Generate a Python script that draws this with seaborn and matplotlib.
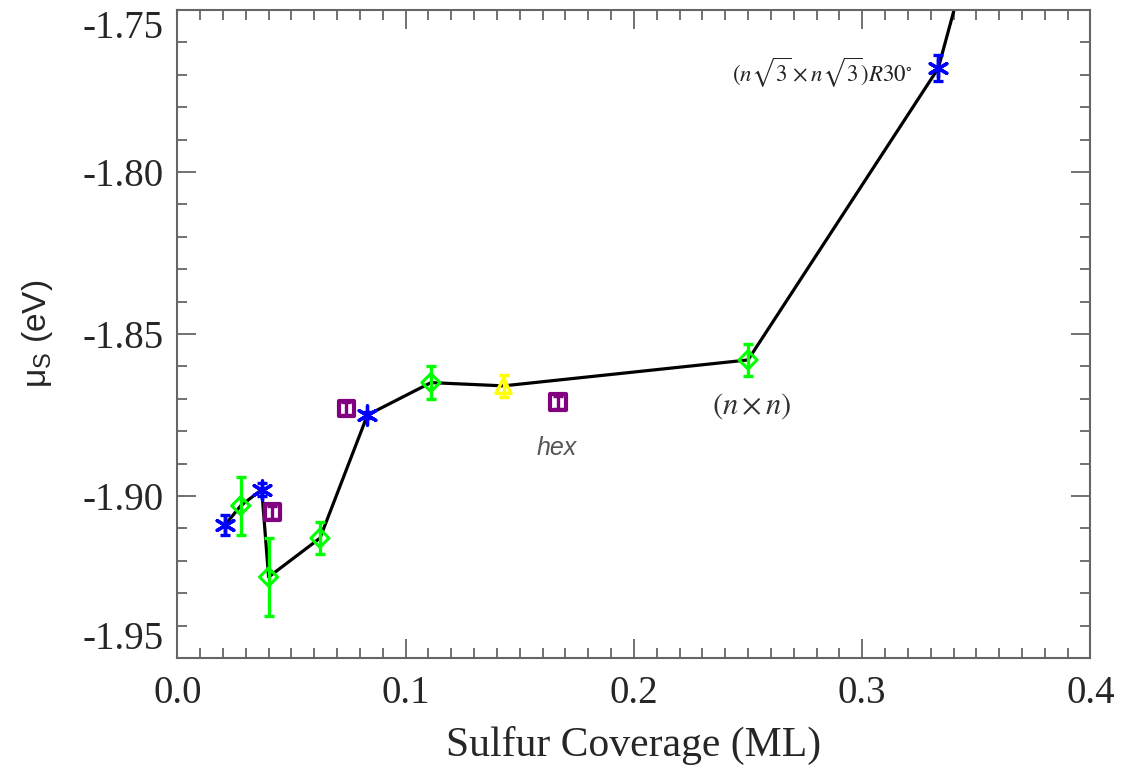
import numpy as np
import pandas as pd
import matplotlib
matplotlib.use("Agg")
import matplotlib.pyplot as plt
import seaborn as sns
from matplotlib.ticker import MultipleLocator, FormatStrFormatter

# ---------------- data ----------------
blue_x = [0.0208, 0.0370, 0.0833, 0.3333]
blue_y = [-1.909, -1.898, -1.875, -1.768]
blue_err = [0.003, 0.002, 0.001, 0.004]

green_x = [0.0278, 0.0400, 0.0625, 0.1111, 0.2500]
green_y = [-1.903, -1.925, -1.913, -1.865, -1.858]
green_err = [0.009, 0.012, 0.005, 0.005, 0.005]

purple_x = [0.0417, 0.0741, 0.1667]
purple_y = [-1.905, -1.873, -1.871]
purple_err = [0.002, 0.002, 0.002]

yellow_x = [0.1429]
yellow_y = [-1.866]
yellow_err = [0.0035]

# lowest-energy convex path (last point lies off the top of the chart)
line_x = [0.0208, 0.0278, 0.0370, 0.0400, 0.0625, 0.0833, 0.1111, 0.1429, 0.2500, 0.3333, 0.3750]
line_y = [-1.909, -1.903, -1.898, -1.925, -1.913, -1.875, -1.865, -1.866, -1.858, -1.768, -1.660]

x_ticks = [0.0, 0.1, 0.2, 0.3, 0.4]
y_ticks = [-1.95, -1.90, -1.85, -1.80, -1.75]

# ---------------- style ----------------
sns.set_theme(style="ticks")
plt.rcParams["font.family"] = ["Liberation Serif", "DejaVu Serif"]
plt.rcParams["mathtext.fontset"] = "custom"
plt.rcParams["mathtext.rm"] = "Liberation Sans"
plt.rcParams["mathtext.it"] = "Liberation Sans:italic"

fig = plt.figure(figsize=(11.27, 7.69), dpi=100)
ax = fig.add_axes([0.1573, 0.1443, 0.8103, 0.8427])

line_df = pd.DataFrame({"x": line_x, "y": line_y})
sns.lineplot(data=line_df, x="x", y="y", sort=False, estimator=None,
             color="black", linewidth=2.3, ax=ax, zorder=2)

series = [
    (blue_x, blue_y, blue_err, "#0000FF", (6, 2, 0), 190, 2.4),
    (green_x, green_y, green_err, "#00FF00", "D", 85, 2.2),
    (purple_x, purple_y, purple_err, "#800080", "s", 125, 3.0),
    (yellow_x, yellow_y, yellow_err, "#FFFF00", "^", 120, 2.4),
]
for xs, ys, es, col, mk, size, lw in series:
    ax.errorbar(xs, ys, yerr=es, fmt="none", ecolor=col, elinewidth=2.4,
                capsize=3.8, capthick=2.4, zorder=3)
    df = pd.DataFrame({"x": xs, "y": ys})
    if mk == (6, 2, 0):
        sns.scatterplot(data=df, x="x", y="y", marker=mk, s=size, color=col,
                        linewidth=lw, ax=ax, zorder=4, legend=False)
    else:
        sns.scatterplot(data=df, x="x", y="y", marker=mk, s=size,
                        facecolor="none", edgecolor=col, linewidth=lw,
                        ax=ax, zorder=4, legend=False)

# ---------------- annotations ----------------
ax.text(0.1662, -1.8853, "hex", fontsize=18, style="italic", color="#555555",
        family="Liberation Sans", ha="center", va="center")
ax.text(0.2517, -1.8724, r"$(n\times n)$", fontsize=22, color="#333333",
        math_fontfamily="stix", ha="center", va="center")
ax.text(0.2825, -1.7695, r"$(n\sqrt{3}\times n\sqrt{3})R30^{\circ}$", fontsize=16.5,
        color="#222222", math_fontfamily="stix", ha="center", va="center")

# ---------------- axes ----------------
ax.set_xlim(x_ticks[0], x_ticks[-1])
ax.set_ylim(y_ticks[0], y_ticks[-1])
ax.set_xticks(x_ticks)
ax.set_yticks(y_ticks)
ax.xaxis.set_major_formatter(FormatStrFormatter("%.1f"))
ax.yaxis.set_major_formatter(FormatStrFormatter("%.2f"))
ax.xaxis.set_minor_locator(MultipleLocator(0.01))
ax.yaxis.set_minor_locator(MultipleLocator(0.01))

ax.tick_params(which="both", direction="in", top=True, right=True,
               color="#666666", width=1.3)
ax.tick_params(which="major", length=14)
ax.tick_params(which="minor", length=7)
ax.tick_params(axis="y", which="major", labelsize=28, pad=10)
ax.tick_params(axis="x", which="major", labelsize=28, pad=12)
for sp in ax.spines.values():
    sp.set_color("#666666")
    sp.set_linewidth(1.5)

# end labels sit inside the axis span, as in the reference
fig.canvas.draw()
ylabels = ax.get_yticklabels()
ylabels[-1].set_va("top")
ylabels[0].set_va("bottom")

ax.set_xlabel("Sulfur Coverage (ML)", fontsize=30)
ax.xaxis.label.set_va("center")
ax.xaxis.set_label_coords(0.5, -0.135)

ax.set_ylabel(r"μ$_{\rm S}$ (eV)", fontsize=24, family="Liberation Sans")
ax.yaxis.label.set_va("center")
ax.yaxis.set_label_coords(-0.153, 0.50)

ax.grid(False)
fig.savefig("out.png", dpi=100)
